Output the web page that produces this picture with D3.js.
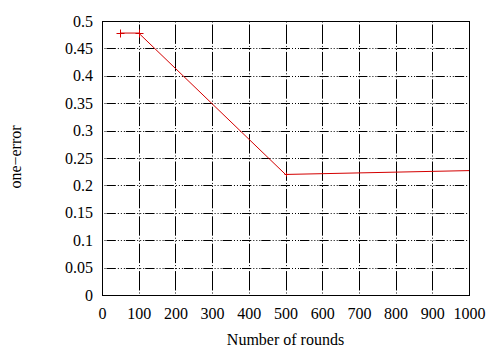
<!DOCTYPE html>
<html>
<head>
<meta charset="utf-8">
<script src="https://cdn.jsdelivr.net/npm/d3@7"></script>
<style>
  body { margin: 0; background: #fff; }
</style>
</head>
<body>
<svg id="chart" width="500" height="350" font-family="'Liberation Serif', 'Times New Roman', serif"></svg>
<script>
// Data
const rounds = [50, 100, 500, 1000];
const oneError = [0.478, 0.478, 0.220, 0.227];
const markerRounds = [50, 100, 500];
const xTicks = [0, 100, 200, 300, 400, 500, 600, 700, 800, 900, 1000];
const yTicks = [0, 0.05, 0.1, 0.15, 0.2, 0.25, 0.3, 0.35, 0.4, 0.45, 0.5];

const serif = "'Liberation Serif', 'Times New Roman', serif";

const margin = {top: 21, right: 31, bottom: 55, left: 102},
    width = 500 - margin.left - margin.right,
    height = 350 - margin.top - margin.bottom;

const svg = d3.select("#chart")
  .append("g")
  .attr("transform", `translate(${margin.left},${margin.top})`);

const x = d3.scaleLinear().domain([0, 1000]).range([0, width]);
const y = d3.scaleLinear().domain([0, 0.5]).range([height, 0]);

// Grid: solid dashes with dotted stretches around the crossings
const stepY = y(0) - y(0.05);
const stepX = x(100) - x(0);
svg.append("g")
  .selectAll("line")
  .data(xTicks.slice(1, -1))
  .join("line")
  .attr("x1", d => Math.round(x(d)) + 0.5)
  .attr("x2", d => Math.round(x(d)) + 0.5)
  .attr("y1", height)
  .attr("y2", 0)
  .attr("stroke", "#000")
  .attr("stroke-width", 1)
  .attr("stroke-dasharray", `${stepY - 8},2,1,2,1,2`)
  .attr("stroke-dashoffset", -(stepY - (stepY - 4)) - 0.5);
svg.append("g")
  .selectAll("line")
  .data(yTicks.slice(1, -1))
  .join("line")
  .attr("x1", 0)
  .attr("x2", width)
  .attr("y1", d => Math.round(y(d)) + 0.5)
  .attr("y2", d => Math.round(y(d)) + 0.5)
  .attr("stroke", "#000")
  .attr("stroke-width", 1)
  .attr("stroke-dasharray", `${stepX / 2 - 9},2,1,2,1,2,1,1`)
  .attr("stroke-dashoffset", -4.5);

// Axes (labels only, border drawn below)
const xAxis = svg.append("g")
  .attr("transform", `translate(0,${height})`)
  .call(d3.axisBottom(x).tickValues(xTicks).tickSize(0).tickFormat(d3.format("d")));
xAxis.attr("font-family", null);
xAxis.select(".domain").remove();
xAxis.selectAll("text")
  .attr("y", 24)
  .attr("dy", null)
  .style("font-family", serif)
  .style("font-size", "16px")
  .attr("fill", "#000");

const yAxis = svg.append("g")
  .call(d3.axisLeft(y).tickValues(yTicks).tickSize(0).tickPadding(9).tickFormat(d => d === 0 ? "0" : String(+d.toFixed(2))));
yAxis.attr("font-family", null);
yAxis.select(".domain").remove();
yAxis.selectAll("text")
  .style("font-family", serif)
  .style("font-size", "16px")
  .attr("fill", "#000");

// Border
svg.append("rect")
  .attr("x", 0.5)
  .attr("y", 0.5)
  .attr("width", width)
  .attr("height", height)
  .attr("fill", "none")
  .attr("stroke", "#000")
  .attr("stroke-width", 1);

// Line
const pts = rounds.map((r, i) => [r, oneError[i]]);
svg.append("path")
  .datum(pts)
  .attr("fill", "none")
  .attr("stroke", "#d40000")
  .attr("stroke-width", 1)
  .attr("d", d3.line().x(d => x(d[0])).y(d => y(d[1])));

// Point markers
const marks = pts.filter(d => markerRounds.includes(d[0]));
svg.append("g")
  .selectAll("path")
  .data(marks)
  .join("path")
  .attr("d", d => {
    const cx = Math.round(x(d[0])) + 0.5, cy = Math.round(y(d[1])) + 0.5;
    const s = d[0] === 500 ? 2 : 4;
    return `M${cx - s},${cy}H${cx + s}M${cx},${cy - s}V${cy + s}`;
  })
  .attr("stroke", "#d40000")
  .attr("stroke-width", 1);

// Axis titles
svg.append("text")
  .attr("x", width / 2)
  .attr("y", height + 50)
  .attr("text-anchor", "middle")
  .style("font-family", serif)
  .style("font-size", "16px")
  .text("Number of rounds");

svg.append("text")
  .attr("transform", `translate(${-81},${height / 2 - 1}) rotate(-90)`)
  .attr("text-anchor", "middle")
  .style("font-family", serif)
  .style("font-size", "16px")
  .text("one\u2212error");
</script>
</body>
</html>
